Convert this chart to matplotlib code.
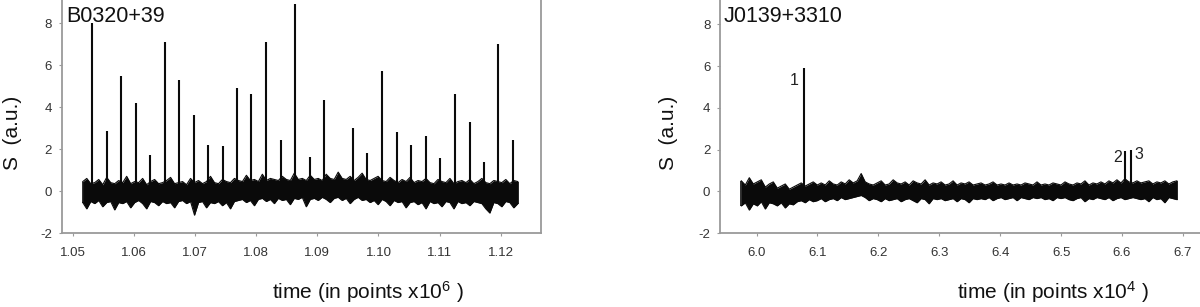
import numpy as np
import matplotlib
matplotlib.use("Agg")
import matplotlib.pyplot as plt

plt.rcParams['font.family'] = ['Liberation Sans', 'DejaVu Sans']
plt.rcParams['mathtext.fontset'] = 'custom'
plt.rcParams['mathtext.rm'] = 'Liberation Sans'
plt.rcParams['mathtext.it'] = 'Liberation Sans'

# ---------------- data: left panel (B0320+39) ----------------
left_title = "B0320+39"
left_xlabel = "time (in points x10$^{6}$ )"
left_xticks = [1.05, 1.06, 1.07, 1.08, 1.09, 1.10, 1.11, 1.12]
left_xticklabels = ["1.05", "1.06", "1.07", "1.08", "1.09", "1.10", "1.11", "1.12"]
left_noise_start, left_noise_end = 1.0516, 1.1228
# upper / lower edge of the noisy trace, read along the time axis
left_upper = [
    0.45, 0.6, 0.35, 0.4, 0.55, 0.3, 0.65, 0.4, 0.35, 0.5,
    0.4, 0.7, 0.35, 0.45, 0.4, 0.6, 0.3, 0.45, 0.55, 0.35,
    0.4, 0.5, 0.65, 0.35, 0.4, 0.45, 0.3, 0.6, 0.4, 0.5,
    0.35, 0.45, 0.7, 0.4, 0.35, 0.55, 0.45, 0.4, 0.6, 0.5,
    0.45, 0.75, 0.5, 0.55, 0.45, 0.8, 0.5, 0.6, 0.55, 0.5,
    0.7, 0.55, 0.5, 0.85, 0.55, 0.6, 0.5, 0.75, 0.55, 0.6,
    0.5, 0.8, 0.6, 0.55, 0.9, 0.6, 0.55, 0.7, 0.5, 0.65,
    0.85, 0.55, 0.5, 0.6, 0.7, 0.5, 0.45, 0.65, 0.5, 0.4,
    0.55, 0.45, 0.65, 0.4, 0.5, 0.45, 0.6, 0.4, 0.35, 0.55,
    0.45, 0.4, 0.6, 0.35, 0.45, 0.5, 0.4, 0.55, 0.35, 0.45,
    0.6, 0.4, 0.35, 0.5, 0.45, 0.4, 0.55, 0.35, 0.5, 0.45,
]
left_lower = [
    -0.55, -0.85, -0.5, -0.6, -0.45, -0.75, -0.55, -0.5, -0.9, -0.55,
    -0.6, -0.5, -0.8, -0.55, -0.45, -0.6, -0.85, -0.5, -0.55, -0.7,
    -0.5, -0.6, -0.55, -0.8, -0.5, -0.45, -0.6, -0.5, -1.15, -0.55,
    -0.5, -0.8, -0.55, -0.6, -0.5, -0.7, -0.55, -0.85, -0.5, -0.45,
    -0.4, -0.55, -0.45, -0.7, -0.4, -0.35, -0.5, -0.4, -0.6, -0.35,
    -0.45, -0.4, -0.65, -0.35, -0.4, -0.3, -0.75, -0.4, -0.35, -0.45,
    -0.3, -0.4, -0.55, -0.35, -0.3, -0.45, -0.35, -0.6, -0.4, -0.3,
    -0.45, -0.4, -0.55, -0.45, -0.65, -0.4, -0.5, -0.7, -0.45, -0.55,
    -0.5, -0.8, -0.55, -0.5, -0.65, -0.55, -0.85, -0.5, -0.6, -0.55,
    -0.75, -0.5, -0.55, -0.85, -0.5, -0.6, -0.55, -0.7, -0.5, -0.55,
    -0.6, -0.85, -1.05, -0.55, -0.6, -0.75, -0.5, -0.55, -0.8, -0.6,
]
left_spike_x = [1.0531, 1.0555, 1.0578, 1.0603, 1.0626, 1.0650, 1.0674, 1.0698, 1.0721, 1.0745,
                1.0769, 1.0792, 1.0816, 1.0840, 1.0864, 1.0888, 1.0911, 1.0958, 1.0982, 1.1006,
                1.1030, 1.1054, 1.1077, 1.1101, 1.1125, 1.1149, 1.1172, 1.1196, 1.1220]
left_spike_h = [8.0, 2.86, 5.5, 4.21, 1.72, 7.09, 5.31, 3.62, 2.19, 2.15,
                4.90, 4.64, 7.09, 2.42, 8.9, 1.61, 4.32, 2.99, 1.81, 5.72,
                2.80, 2.19, 2.62, 1.59, 4.64, 3.31, 1.38, 7.01, 2.42]

# ---------------- data: right panel (J0139+3310) ----------------
right_title = "J0139+3310"
right_xlabel = "time (in points x10$^{4}$ )"
right_xticks = [6.0, 6.1, 6.2, 6.3, 6.4, 6.5, 6.6, 6.7]
right_xticklabels = ["6.0", "6.1", "6.2", "6.3", "6.4", "6.5", "6.6", "6.7"]
right_noise_start, right_noise_end = 5.975, 6.69
right_upper = [
    0.5, 0.3, 0.65, 0.35, 0.45, 0.55, 0.2, 0.35, 0.45, 0.15,
    0.25, 0.35, 0.1, 0.2, 0.3, 0.4, 0.25, 0.35, 0.45, 0.3,
    0.4, 0.3, 0.5, 0.35, 0.3, 0.45, 0.35, 0.55, 0.4, 0.5,
    0.85, 0.45, 0.35, 0.3, 0.4, 0.5, 0.3, 0.35, 0.55, 0.4,
    0.35, 0.45, 0.3, 0.5, 0.4, 0.35, 0.55, 0.3, 0.4, 0.35,
    0.45, 0.3, 0.35, 0.5, 0.3, 0.4, 0.35, 0.45, 0.3, 0.35,
    0.4, 0.3, 0.35, 0.45, 0.3, 0.35, 0.3, 0.4, 0.3, 0.35,
    0.3, 0.4, 0.35, 0.3, 0.45, 0.3, 0.35, 0.3, 0.4, 0.35,
    0.3, 0.45, 0.35, 0.3, 0.4, 0.35, 0.5, 0.3, 0.4, 0.35,
    0.45, 0.35, 0.5, 0.4, 0.55, 0.4, 0.6, 0.45, 0.4, 0.5,
    0.4, 0.45, 0.5, 0.35, 0.45, 0.4, 0.5, 0.35, 0.45, 0.5,
]
right_lower = [
    -0.7, -0.55, -0.9, -0.6, -0.7, -0.5, -0.85, -0.55, -0.6, -0.7,
    -0.55, -0.8, -0.6, -0.65, -0.5, -0.45, -0.55, -0.4, -0.5, -0.45,
    -0.35, -0.5, -0.4, -0.35, -0.45, -0.3, -0.4, -0.35, -0.3, -0.25,
    -0.2, -0.3, -0.45, -0.35, -0.4, -0.5, -0.35, -0.45, -0.4, -0.35,
    -0.5, -0.4, -0.35, -0.45, -0.55, -0.35, -0.4, -0.6, -0.35, -0.4,
    -0.35, -0.45, -0.4, -0.35, -0.5, -0.35, -0.4, -0.55, -0.35, -0.4,
    -0.35, -0.4, -0.3, -0.45, -0.35, -0.3, -0.4, -0.35, -0.3, -0.45,
    -0.3, -0.35, -0.4, -0.3, -0.35, -0.3, -0.4, -0.35, -0.45, -0.3,
    -0.35, -0.3, -0.4, -0.45, -0.35, -0.3, -0.5, -0.35, -0.4, -0.3,
    -0.35, -0.4, -0.3, -0.45, -0.35, -0.3, -0.4, -0.35, -0.3, -0.35,
    -0.4, -0.35, -0.5, -0.3, -0.4, -0.35, -0.55, -0.3, -0.35, -0.4,
]
right_spike_x = [6.0782, 6.6050, 6.6148]
right_spike_h = [5.9, 1.95, 2.0]
right_spike_labels = ["1", "2", "3"]
right_label_x = [6.061, 6.592, 6.628]
right_label_y = [5.3, 1.6, 1.75]

yticks = [-2, 0, 2, 4, 6, 8]
yticklabels = ["-2", "0", "2", "4", "6", "8"]
ylabel = "S  (a.u.)"

# ---------------- figure ----------------
W, H = 1200, 307
fig = plt.figure(figsize=(W / 100, H / 100), dpi=100)

spine_col = "#9a9a9a"
tick_col = "#333333"
line_col = "#0a0a0a"


def style_axes(ax, xlim, ylim, xticks, xticklabels, right_spine=True):
    ax.set_xlim(*xlim)
    ax.set_ylim(*ylim)
    ax.set_xticks(xticks)
    ax.set_xticklabels(xticklabels)
    ax.set_yticks(yticks)
    ax.set_yticklabels(yticklabels)
    for s in ["left", "bottom", "right"]:
        ax.spines[s].set_color(spine_col)
        ax.spines[s].set_linewidth(1.3)
    ax.spines["top"].set_visible(False)
    ax.spines["right"].set_visible(right_spine)
    ax.tick_params(axis="both", direction="out", length=2, width=0.8,
                   color=spine_col, labelcolor=tick_col, labelsize=9.5)
    ax.tick_params(axis="x", pad=8)
    ax.tick_params(axis="y", pad=5)
    ax.patch.set_alpha(0)


def draw_band(ax, x0, x1, upper, lower):
    x = np.linspace(x0, x1, len(upper))
    ax.fill_between(x, lower, upper, color=line_col, lw=0)
    ax.plot(x, upper, color=line_col, lw=0.8)
    ax.plot(x, lower, color=line_col, lw=0.8)
    ax.vlines([x0, x1], [lower[0], lower[-1]], [upper[0], upper[-1]], color=line_col, lw=1.2)


# Left panel
axL = fig.add_axes([61.7 / W, (H - 233) / H, (541 - 61.7) / W, 233 / H])
draw_band(axL, left_noise_start, left_noise_end, left_upper, left_lower)
axL.vlines(left_spike_x, 0, left_spike_h, color=line_col, lw=1.5)
style_axes(axL, (1.04815, 1.1266), (-2, 9.1), left_xticks, left_xticklabels, True)

# Right panel
axR = fig.add_axes([720 / W, (H - 233) / H, 480 / W, 233 / H])
draw_band(axR, right_noise_start, right_noise_end, right_upper, right_lower)
axR.vlines(right_spike_x, 0, right_spike_h, color=line_col, lw=1.5)
for lx, ly, lab in zip(right_label_x, right_label_y, right_spike_labels):
    axR.text(lx, ly, lab, fontsize=11.5, color="#222222", ha="center", va="center")
style_axes(axR, (5.94, 6.728), (-2, 9.17), right_xticks, right_xticklabels, False)

# Titles
fig.text(66 / W, 1 - 22 / H, left_title, fontsize=15.5, color="#111111", va="baseline", ha="left")
fig.text(724 / W, 1 - 22 / H, right_title, fontsize=15.5, color="#111111", va="baseline", ha="left")

# Axis labels
fig.text(368 / W, 1 - 292 / H, left_xlabel, fontsize=15, color="#111111", ha="center", va="center")
fig.text(1053 / W, 1 - 292 / H, right_xlabel, fontsize=15, color="#111111", ha="center", va="center")
fig.text(13 / W, 1 - 133 / H, ylabel, fontsize=15, color="#111111", ha="center", va="center", rotation=90)
fig.text(668 / W, 1 - 133 / H, ylabel, fontsize=15, color="#111111", ha="center", va="center", rotation=90)

fig.savefig("out.png", dpi=100)
